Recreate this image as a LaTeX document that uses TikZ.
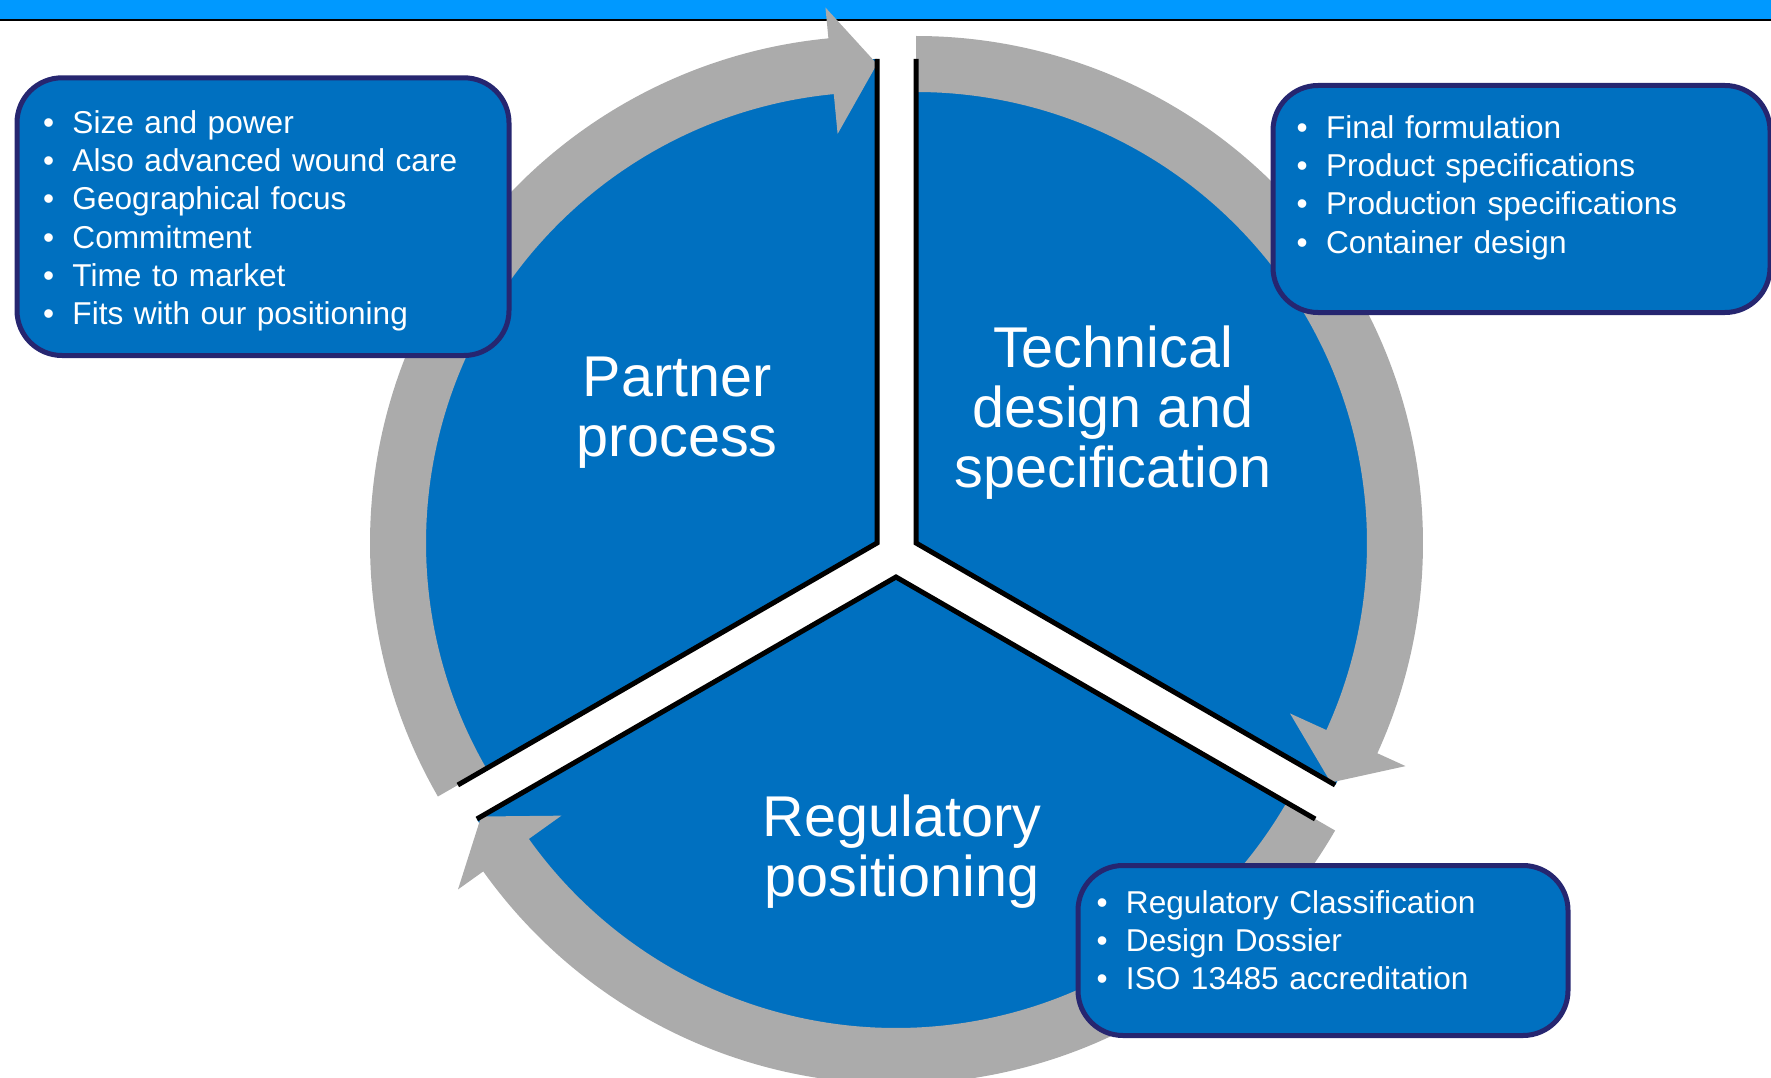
\documentclass[tikz,border=0pt]{standalone}
\usepackage{fontspec}
\setmainfont{Liberation Sans}
\usepackage{xcolor}
\usepackage{tikz}
\usetikzlibrary{positioning}

\definecolor{barblue}{RGB}{0,153,255}
\definecolor{sectorblue}{RGB}{0,112,192}
\definecolor{ringgray}{RGB}{171,171,171}
\definecolor{boxnavy}{RGB}{38,38,112}

\newcommand{\bitem}{\makebox[29.5pt][l]{\textbullet}}

\begin{document}
\begin{tikzpicture}[
    x=1pt, y=1pt,
    sector/.style={fill=sectorblue},
    edge/.style={draw=black, line width=5pt},
    ring/.style={fill=ringgray},
    title/.style={text=white, align=center, inner sep=0pt, font=\fontsize{57.5}{60}\selectfont},
    listbox/.style={draw=boxnavy, line width=5pt, fill=sectorblue, rounded corners=45pt, text=white, align=left, anchor=base west, inner ysep=0pt, font=\fontsize{31.6}{38.3}\selectfont}
]
    \useasboundingbox (0,0) rectangle (1771,-1078);

    % Header bar
    \fill[barblue] (0,0) rectangle (1771,-19);
    \draw[line width=2.5pt] (0,-20) -- (1771,-20);

    % Sector centres
    \coordinate (tlc) at (877,-543);
    \coordinate (trc) at (916,-543);
    \coordinate (btc) at (896,-577);

    % Top left sector
    \begin{scope}[shift={(tlc)}]
        \fill[sector] (0,0) -- (90:484) arc[start angle=90, end angle=210, radius=484] -- cycle;
        \fill[ring] (210:507) arc[start angle=210, end angle=95.5, radius=507] -- (95.5:538) -- (90:479)
            -- (95.5:411) -- (95.5:451) arc[start angle=95.5, end angle=210, radius=451] -- cycle;
        \draw[edge] (210:484) -- (0,0) -- (90:484);
    \end{scope}

    % Top right sector
    \begin{scope}[shift={(trc)}]
        \fill[sector] (0,0) -- (-30:484) arc[start angle=-30, end angle=90, radius=484] -- cycle;
        \fill[ring] (90:507) arc[start angle=90, end angle=-24.5, radius=507] -- (-24.5:538) -- (-30:479)
            -- (-24.5:411) -- (-24.5:451) arc[start angle=-24.5, end angle=90, radius=451] -- cycle;
        \draw[edge] (90:484) -- (0,0) -- (-30:484);
    \end{scope}

    % Bottom sector
    \begin{scope}[shift={(btc)}]
        \fill[sector] (0,0) -- (210:484) arc[start angle=210, end angle=330, radius=484] -- cycle;
        \fill[ring] (-30:507) arc[start angle=-30, end angle=-144.5, radius=507] -- (-144.5:538) -- (-150:479)
            -- (-144.5:411) -- (-144.5:451) arc[start angle=-144.5, end angle=-30, radius=451] -- cycle;
        \draw[edge] (-30:484) -- (0,0) -- (210:484);
    \end{scope}

    % Titles
    \node[title] (partner) at (677,-413) {Partner\\process};
    \node[title] (technical) at (1113,-413) {Technical\\design and\\specification};
    \node[title] (regulatory) at (902,-851.5) {Regulatory\\positioning};

    % Lists
    \node[listbox, text width=440pt, inner xsep=26pt, text height=55.5pt, text depth=222.2pt] (partnerlist) at (14.5,-133.3)
        {\bitem Size and power\\ \bitem Also advanced wound care\\ \bitem Geographical focus\\
         \bitem Commitment\\ \bitem Time to market\\ \bitem Fits with our positioning};
    \node[listbox, text width=450pt, inner xsep=23.5pt, text height=52.8pt, text depth=174.2pt] (technicallist) at (1270.5,-138.3)
        {\bitem Final formulation\\ \bitem Product specifications\\ \bitem Production specifications\\
         \bitem Container design};
    \node[listbox, text width=453pt, inner xsep=18.5pt, text height=47.8pt, text depth=122.2pt] (regulatorylist) at (1075.5,-913.3)
        {\bitem Regulatory Classification\\ \bitem Design Dossier\\ \bitem ISO 13485 accreditation};
\end{tikzpicture}
\end{document}
